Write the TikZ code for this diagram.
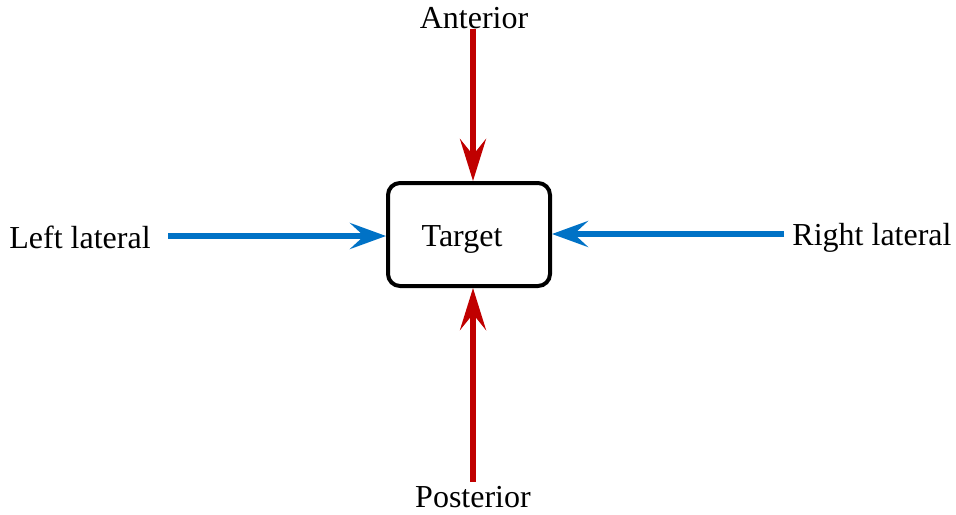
\documentclass[tikz,border=0pt]{standalone}
\usepackage{fontspec}
\setmainfont{Liberation Serif}
\usetikzlibrary{arrows.meta}
\definecolor{antred}{RGB}{192,0,0}
\definecolor{latblue}{RGB}{0,114,198}
\tikzset{
  lbl/.style={font=\fontsize{16}{19}\selectfont, inner sep=0pt},
  redarrow/.style={draw=antred, fill=antred, line width=2.8pt, -{Stealth[length=21pt,width=13pt,inset=8pt]}},
  bluearrow/.style={draw=latblue, fill=latblue, line width=3pt, -{Stealth[length=18pt,width=13pt,inset=7pt]}},
}
\begin{document}
\begin{tikzpicture}[x=0.5pt, y=-0.5pt]
  \useasboundingbox (0,0) rectangle (956,514);

  % target box
  \node[lbl, draw, line width=2pt, rounded corners=6pt, minimum width=81pt, minimum height=51.5pt,
        text depth=0pt] (target) at (469,234.5) {\hspace*{-7pt}\raisebox{-1.5pt}{Target}};

  % direction labels
  \node[lbl] (ant) at (474,18) {Anterior};
  \node[lbl] (post) at (473,497) {Posterior};
  \node[lbl] (lft) at (80,237) {Left lateral};
  \node[lbl] (rgt) at (872,238) {Right lateral};

  % arrows
  \draw[redarrow] (ant.south -| 473,0) -- (target.north -| 473,0);
  \draw[redarrow, shorten <=2pt] (post.north -| 473,0) -- (target.south -| 473,0);
  \draw[bluearrow, shorten <=8.5pt] (lft.east |- 0,236) -- (target.west |- 0,236);
  \draw[bluearrow, shorten <=4pt] (rgt.west |- 0,234) -- (target.east |- 0,234);
\end{tikzpicture}
\end{document}
